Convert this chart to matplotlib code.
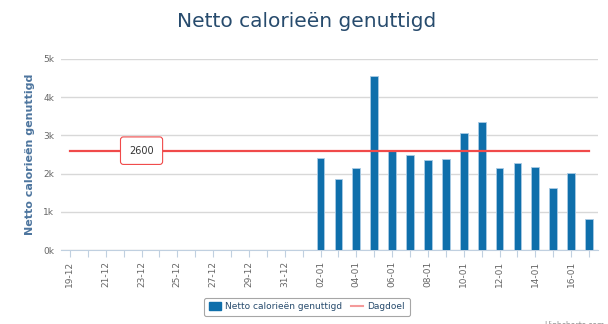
import numpy as np
import matplotlib.pyplot as plt
from matplotlib.patches import Patch
from matplotlib.lines import Line2D

# dagen 19-12 t/m 17-01
dates = ['19-12', '20-12', '21-12', '22-12', '23-12', '24-12', '25-12', '26-12',
         '27-12', '28-12', '29-12', '30-12', '31-12', '01-01', '02-01', '03-01',
         '04-01', '05-01', '06-01', '07-01', '08-01', '09-01', '10-01', '11-01',
         '12-01', '13-01', '14-01', '15-01', '16-01', '17-01']
calories = [np.nan] * 14 + [2410, 1870, 2140, 4550, 2580, 2490, 2350, 2380,
                            3050, 3350, 2150, 2280, 2180, 1610, 2010, 820]
goal = [2600] * len(dates)

bar_color = '#0f6fab'
goal_color = '#f04a4a'
grid_color = '#d8d8d8'
text_color = '#666666'

fig = plt.figure(figsize=(6.08, 3.24), dpi=100)
ax = fig.add_axes([61 / 608, 1 - 250 / 324, 537 / 608, 191 / 324])

x = np.arange(len(dates))
ax.bar(x, calories, width=0.44, color=bar_color, edgecolor='#a9cbe4',
       linewidth=0.6, zorder=3)
ax.plot(x, goal, color=goal_color, linewidth=1.6, zorder=4)

ax.set_xlim(-0.5, len(dates) - 0.5)
ax.set_ylim(0, 5000)
ax.set_yticks([0, 1000, 2000, 3000, 4000, 5000])
ax.set_yticklabels(['0k', '1k', '2k', '3k', '4k', '5k'])
ax.yaxis.grid(True, color=grid_color, linewidth=1, zorder=0)
ax.tick_params(axis='y', length=0, labelsize=6.5, labelcolor=text_color, pad=5)

ax.set_xticks(x)
ax.set_xticklabels([d if i % 2 == 0 else '' for i, d in enumerate(dates)],
                   rotation=90, fontsize=6.5, color=text_color)
ax.tick_params(axis='x', length=5, color='#c0d0e0', pad=3)

for side in ['top', 'right', 'left']:
    ax.spines[side].set_visible(False)
ax.spines['bottom'].set_color('#c0d0e0')

ax.set_ylabel('Netto calorieën genuttigd', fontsize=8, fontweight='bold',
              color='#4d759e', labelpad=6)

fig.text(0.505, 0.935, 'Netto calorieën genuttigd', ha='center', va='center',
         fontsize=14.5, color='#274b6d')

# tooltip-label bij het dagdoel
ax.text(4, 2600, '2600', ha='center', va='center', fontsize=7, color='#333333',
        zorder=6,
        bbox=dict(boxstyle='round,pad=0.9,rounding_size=0.3', fc='white',
                  ec=goal_color, lw=0.8))

handles = [Patch(facecolor=bar_color, edgecolor=bar_color),
           Line2D([0], [0], color='#f49a9a', linewidth=1.5)]
leg = fig.legend(handles, ['Netto calorieën genuttigd', 'Dagdoel'],
                 loc='center', bbox_to_anchor=(0.505, 0.053), ncol=2,
                 fontsize=6.5, frameon=True, fancybox=True, handlelength=1.3,
                 handleheight=1.0, columnspacing=1.0, handletextpad=0.5,
                 borderpad=0.5)
leg.get_frame().set_edgecolor('#909090')
leg.get_frame().set_linewidth(0.8)
for t in leg.get_texts():
    t.set_color('#274b6d')

fig.text(0.895, 0.008, 'Highcharts.com', fontsize=5.5, color='#909090',
         ha='left', va='top')

fig.savefig('out.png', dpi=100)
